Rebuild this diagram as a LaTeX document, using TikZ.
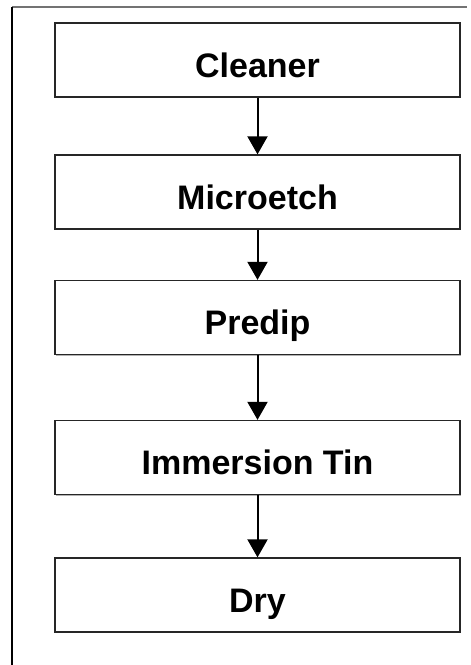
\documentclass[tikz,border=0pt]{standalone}
\usepackage{fontspec}
\setmainfont{Liberation Sans}
\usetikzlibrary{arrows.meta,shadows,positioning}
\tikzset{
  stepbox/.style={draw=black!85, line width=1.3pt, fill=white, inner sep=0pt,
    minimum width=405pt, minimum height=74pt, text height=34pt, text depth=0pt,
    font=\fontsize{34}{40}\selectfont\bfseries,
    drop shadow={shadow xshift=1.2pt, shadow yshift=-1.2pt, fill=black!30, opacity=1}},
  flow/.style={line width=2pt, -{Triangle[width=20pt,length=18pt]}}
}
\begin{document}
\begin{tikzpicture}[x=1pt, y=-1pt]
		\useasboundingbox (0,0) rectangle (471,665);
		% frame
		\coordinate (tl) at (12,7);
		\coordinate (tr) at (467,7);
		\coordinate (bl) at (12,665);
		\draw [line width=1.3pt, black!55] (tl) -- (tr);
		\draw [line width=1.5pt] (tl) -- (bl);
		% process steps
		\node [stepbox] (cleaner) at (257.5,60) {Cleaner};
		\node [stepbox] (micro) at (257.5,192) {Microetch};
		\node [stepbox] (predip) at (257.5,317.5) {Predip};
		\node [stepbox] (tin) at (257.5,457.5) {Immersion Tin};
		\node [stepbox] (dry) at (257.5,595) {Dry};
		\draw [flow] (cleaner) -- (micro);
		\draw [flow] (micro) -- (predip);
		\draw [flow] (predip) -- (tin);
		\draw [flow] (tin) -- (dry);
\end{tikzpicture}
\end{document}
